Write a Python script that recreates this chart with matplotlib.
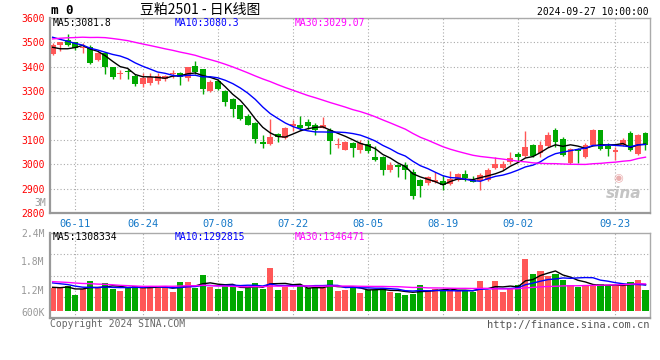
import matplotlib
matplotlib.use("Agg")
import matplotlib.pyplot as plt
import numpy as np
import pandas as pd

# daily bars 2024-06-05 .. 2024-09-27 (80 trading days)
opens = [3452, 3489, 3508, 3500, 3478, 3479, 3428, 3455, 3397, 3370,
         3384, 3364, 3330, 3334, 3340, 3348, 3370, 3375, 3352, 3402,
         3389, 3302, 3340, 3300, 3267, 3242, 3200, 3170, 3093, 3082,
         3123, 3108, 3155, 3162, 3175, 3161, 3150, 3141, 3080, 3060,
         3086, 3060, 3083, 3030, 3030, 2975, 2996, 2998, 2970, 2936,
         2923, 2926, 2933, 2918, 2937, 2961, 2937, 2931, 2935, 2983,
         2986, 3008, 3040, 3033, 3081, 3045, 3074, 3140, 3104, 3006,
         3063, 3030, 3081, 3140, 3074, 3050, 3077, 3129, 3044, 3129]
closes = [3489, 3500, 3490, 3475, 3483, 3415, 3455, 3398, 3360, 3375,
          3378, 3330, 3352, 3358, 3362, 3362, 3374, 3360, 3397, 3380,
          3308, 3338, 3308, 3256, 3225, 3185, 3162, 3103, 3083, 3110,
          3111, 3150, 3165, 3148, 3155, 3139, 3160, 3097, 3084, 3093,
          3068, 3086, 3053, 3018, 2975, 2995, 2987, 2977, 2871, 2910,
          2947, 2937, 2913, 2940, 2961, 2942, 2928, 2954, 2978, 3003,
          2999, 3026, 3029, 3071, 3033, 3081, 3122, 3092, 3040, 3064,
          3054, 3077, 3140, 3063, 3063, 3058, 3101, 3058, 3118, 3078]
highs = [3496, 3503, 3535, 3502, 3498, 3490, 3462, 3460, 3400, 3385,
         3390, 3370, 3373, 3375, 3375, 3368, 3385, 3378, 3400, 3425,
         3392, 3345, 3350, 3305, 3270, 3245, 3205, 3172, 3120, 3186,
         3127, 3152, 3183, 3198, 3185, 3168, 3193, 3148, 3107, 3097,
         3093, 3100, 3100, 3073, 3032, 3011, 3000, 3011, 2980, 2938,
         2953, 2970, 2957, 2972, 2965, 2978, 2951, 2965, 2985, 3030,
         3013, 3049, 3049, 3135, 3082, 3095, 3131, 3149, 3112, 3066,
         3067, 3088, 3145, 3140, 3088, 3071, 3108, 3135, 3125, 3131]
lows = [3450, 3465, 3485, 3470, 3455, 3411, 3424, 3372, 3349, 3350,
        3350, 3320, 3318, 3325, 3330, 3340, 3355, 3325, 3342, 3372,
        3290, 3297, 3305, 3238, 3195, 3183, 3160, 3089, 3068, 3078,
        3090, 3103, 3137, 3141, 3144, 3120, 3148, 3043, 3066, 3057,
        3028, 3045, 3048, 3014, 2957, 2970, 2947, 2939, 2859, 2865,
        2916, 2922, 2895, 2913, 2933, 2930, 2926, 2896, 2930, 2981,
        2976, 2999, 3008, 3030, 3030, 3030, 3070, 3071, 3033, 3003,
        3006, 3026, 3077, 3060, 3033, 3019, 3074, 3053, 3040, 3058]
# volume, thousands of lots
volume_k = [1236, 1236, 1286, 1093, 1221, 1393, 1236, 1336, 1220, 1180,
            1250, 1286, 1270, 1230, 1230, 1270, 1157, 1357, 1371, 1236,
            1500, 1257, 1220, 1307, 1280, 1180, 1236, 1336, 1220, 1650,
            1200, 1257, 1200, 1270, 1236, 1257, 1236, 1414, 1180, 1200,
            1257, 1136, 1200, 1200, 1236, 1150, 1129, 1093, 1114, 1307,
            1186, 1214, 1164, 1200, 1180, 1186, 1150, 1393, 1200, 1393,
            1157, 1236, 1307, 1843, 1529, 1586, 1486, 1536, 1414, 1307,
            1250, 1307, 1270, 1329, 1307, 1270, 1270, 1371, 1414, 1200]

# closes / volumes before the window, only used for the moving averages
pre_close = [3420, 3435, 3445, 3440, 3450, 3445,
             3428, 3468, 3498, 3518, 3538, 3553, 3548, 3563, 3568, 3558, 3578, 3583, 3588,
             3595, 3585, 3570, 3560, 3556, 3540,
             3530, 3490, 3450, 3440]
pre_volume_k = [1480, 1550, 1460, 1520, 1490, 1530, 1470, 1510, 1540, 1450, 1500, 1500,
                1180, 1250, 1190, 1230, 1170, 1220, 1240, 1190,
                1410, 1460, 1420, 1450, 1438,
                1280, 1210, 1300, 1226]

tick_labels = ["06-11", "06-24", "07-08", "07-22", "08-05", "08-19", "09-02", "09-23"]
tick_index = [3, 12, 22, 32, 42, 52, 62, 75]

ma_text = ["MA5:3081.8", "MA10:3080.3", "MA30:3029.07"]
vol_ma_text = ["MA5:1308334", "MA10:1292815", "MA30:1346471"]

RED = "#ff5757"
GREEN = "#00a800"
GRID = "#aaaaaa"
MONO = "DejaVu Sans Mono"

n = len(closes)
x = np.arange(n)
o = np.array(opens)
c = np.array(closes)
up = c >= o
colors = [RED if u else GREEN for u in up]

all_close = pd.Series(pre_close + closes, dtype=float)
all_vol = pd.Series(pre_volume_k + volume_k, dtype=float) * 1000
ma_price = [all_close.rolling(k).mean().values[-n:] for k in (5, 10, 30)]
ma_vol = [all_vol.rolling(k).mean().values[-n:] for k in (5, 10, 30)]
line_colors = ["black", "#0000ff", "#ff00ff"]

W, H = 660, 360
fig = plt.figure(figsize=(6.6, 3.6), dpi=100)


def rect(x0, y0, x1, y1):
    return [x0 / W, 1 - y1 / H, (x1 - x0) / W, (y1 - y0) / H]


def px(xp, yp):
    return xp / W, 1 - yp / H


def style_axes(a):
    for s in ("left", "bottom"):
        a.spines[s].set_color("#999999")
        a.spines[s].set_linewidth(1.6)
    for s in ("top", "right"):
        a.spines[s].set_color("#aaaaaa")
        a.spines[s].set_linewidth(1.0)
    a.set_xlim(-0.35, n - 0.4)
    a.set_xticks(tick_index)
    a.grid(True, color=GRID, linestyle=(0, (1, 2)), linewidth=0.8)
    a.set_axisbelow(True)


# price panel
ax = fig.add_axes(rect(50, 18, 650, 213))
style_axes(ax)
ax.vlines(x, lows, highs, colors=colors, linewidth=1)
body = np.maximum(np.abs(c - o), 1.5)
ax.bar(x, body, bottom=np.minimum(o, c), width=0.78, color=colors, linewidth=0)
for m, col in zip(ma_price, line_colors):
    ax.plot(x, m, color=col, linewidth=1)
ax.set_ylim(2800, 3600)
ax.set_yticks(range(2800, 3601, 100))
ax.tick_params(axis="y", length=0, pad=4, labelcolor="red", labelsize=7)
ax.tick_params(axis="x", length=0, pad=4, labelcolor="#1478c8", labelsize=7.5)
ax.set_xticklabels(tick_labels)
for t in ax.get_yticklabels() + ax.get_xticklabels():
    t.set_family(MONO)
ax.text(0.985, 0.06, "sina", transform=ax.transAxes, ha="right", va="bottom",
        fontsize=11, style="italic", weight="bold", color="#c4c4c4")
ax.text(0.955, 0.15, "◉", transform=ax.transAxes, ha="right", va="bottom",
        fontsize=8, color="#eab0b0")

# volume panel
axv = fig.add_axes(rect(50, 233, 650, 318))
style_axes(axv)
vol = np.array(volume_k) * 1000
vol_base = 750000
axv.bar(x, vol - vol_base, bottom=vol_base, width=0.82, color=colors, linewidth=0)
for m, col in zip(ma_vol, line_colors):
    axv.plot(x, m, color=col, linewidth=1)
axv.set_ylim(600000, 2400000)
axv.grid(False, axis="y")
for yv in (1050000, 1500000, 1950000):
    axv.axhline(yv, color=GRID, linestyle=(0, (1, 2)), linewidth=0.8, zorder=0)
axv.set_yticks([600000, 1200000, 1800000, 2400000])
axv.set_yticklabels(["600K", "1.2M", "1.8M", "2.4M"])
axv.tick_params(axis="y", length=0, pad=4, labelcolor="#999999", labelsize=7)
axv.tick_params(axis="x", length=0, labelbottom=False)
for t in axv.get_yticklabels():
    t.set_family(MONO)
axv.get_yticklabels()[0].set_va("bottom")

# header and labels
fig.text(*px(51, 11), "m 0", fontsize=9, weight="bold", family=MONO, va="center")
fig.text(*px(200, 10), "豆粕2501 - 日K线图", fontsize=10, va="center", ha="center",
         family=["Noto Sans CJK SC", "DejaVu Sans"])
fig.text(*px(649, 12), "2024-09-27 10:00:00", fontsize=7, family=MONO, ha="right", va="center")
for label, xp, col in zip(ma_text, (53, 175, 295), line_colors):
    fig.text(*px(xp, 23), label, fontsize=7, family=MONO, color=col, va="center")
for label, xp, col in zip(vol_ma_text, (53, 175, 295), line_colors):
    fig.text(*px(xp, 237), label, fontsize=7, family=MONO, color=col, va="center")
fig.text(*px(46, 203), "3M", fontsize=7, family=MONO, color="#999999", ha="right", va="center")
fig.text(*px(50, 324), "Copyright 2024 SINA.COM", fontsize=7, family=MONO,
         color="#666666", va="center")
fig.text(*px(650, 325), "http://finance.sina.com.cn", fontsize=7.5, family=MONO,
         color="#555555", ha="right", va="center")

fig.savefig("out.png", dpi=100, facecolor="white")
